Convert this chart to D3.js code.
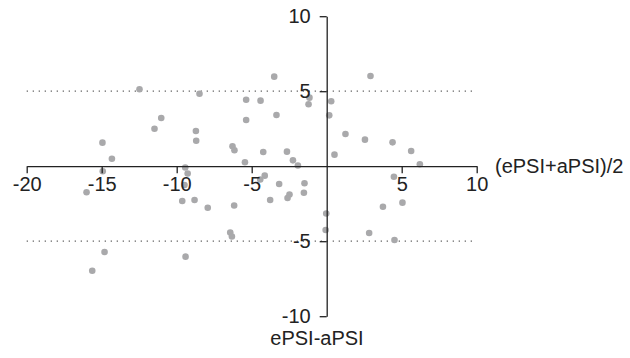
<!DOCTYPE html>
<html>
<head>
<meta charset="utf-8">
<script src="https://cdn.jsdelivr.net/npm/d3@7"></script>
<style>
  html, body { margin: 0; padding: 0; background: #fff; }
  svg text { font-family: "Liberation Sans", Arial, Helvetica, sans-serif; }
</style>
</head>
<body>
<svg id="chart" width="630" height="358"></svg>
<script>
// Bland-Altman style data: x = (ePSI+aPSI)/2, y = ePSI-aPSI
const meanValues = [
  -12.48, -8.48, -3.5, -5.37, -4.41, -1.15, -1.21, -3.35, -11.03, -11.48,
  -5.37, -8.72, -8.7, -14.95, -14.32, -6.28, -6.15, -4.23, -2.65, -2.25,
  -1.92, -5.45, -9.43, -9.27, -14.93, -4.13, -4.43, 0.3, 0.17, 2.92,
  1.25, 2.55, 4.39, 5.63, 0.52, 6.21, 4.48, -16.01, -9.48, -9.63,
  -8.81, -7.93, -6.17, -3.17, -3.77, -2.61, -2.48, -1.48, -1.52, -0.03,
  -0.07, -6.43, -6.32, -9.41, -14.81, -15.63, 5.05, 3.75, 2.83, 4.52
];
const diffValues = [
  5.13, 4.83, 5.97, 4.43, 4.37, 4.57, 4.13, 3.41, 3.21, 2.5,
  3.08, 2.35, 1.7, 1.57, 0.5, 1.33, 1.06, 0.95, 0.97, 0.39,
  0.05, 0.26, -0.09, -0.49, -0.34, -0.63, -0.89, 4.33, 3.39, 6.01,
  2.15, 1.77, 1.59, 1.01, 0.77, 0.13, -0.7, -1.74, -1.25, -2.32,
  -2.25, -2.77, -2.62, -1.19, -2.25, -2.12, -1.89, -1.14, -1.77, -3.15,
  -4.25, -4.42, -4.69, -6.03, -5.72, -6.97, -2.43, -2.7, -4.45, -4.92
];
const xTicks = [-20, -15, -10, -5, 5, 10];
const yTicks = [-10, -5, 5, 10];
const limitLines = [5, -5];
const xLabel = "(ePSI+aPSI)/2";
const yLabel = "ePSI-aPSI";

const svg = d3.select("#chart");
const x = d3.scaleLinear().domain([-20, 10]).range([26.7, 476.7]);
const y = d3.scaleLinear().domain([-10, 10]).range([316.2, 16.2]);

// limit lines
svg.selectAll("line.limit").data(limitLines).enter().append("line")
  .attr("class", "limit")
  .attr("x1", x(-20)).attr("x2", x(10))
  .attr("y1", d => y(d)).attr("y2", d => y(d))
  .attr("stroke", "#555").attr("stroke-width", 1.2)
  .attr("stroke-dasharray", "1.2,4.8");

// points
const pts = meanValues.map((m, i) => ({ x: m, y: diffValues[i] }));
svg.selectAll("circle.pt").data(pts).enter().append("circle")
  .attr("class", "pt")
  .attr("cx", d => x(d.x)).attr("cy", d => y(d.y))
  .attr("r", 3.3)
  .attr("fill", "#a9a9ab");

// axes
const xAxis = d3.axisBottom(x).tickValues(xTicks).tickSize(7).tickSizeOuter(0).tickPadding(4)
  .tickFormat(d3.format("d"));
const gx = svg.append("g").attr("transform", `translate(0,${y(0)})`).call(xAxis);
const yAxis = d3.axisLeft(y).tickValues(yTicks).tickSize(7).tickSizeOuter(0).tickPadding(9)
  .tickFormat(d3.format("d"));
const gy = svg.append("g").attr("transform", `translate(${x(0)},0)`).call(yAxis);

[gx, gy].forEach(g => {
  g.selectAll("path.domain").attr("stroke", "#222").attr("stroke-width", 1.3);
  g.selectAll(".tick line").attr("stroke", "#222").attr("stroke-width", 1.3);
  g.selectAll(".tick text").attr("fill", "#222").style("font-size", "20px")
    .style("font-family", '"Liberation Sans", Arial, Helvetica, sans-serif')
    .text(d => d < 0 ? "-" + Math.abs(d) : String(d));
});

svg.append("text")
  .attr("x", 495).attr("y", 173)
  .attr("fill", "#222").style("font-size", "20px")
  .text(xLabel);

svg.append("text")
  .attr("x", 317).attr("y", 345)
  .attr("text-anchor", "middle")
  .attr("fill", "#222").style("font-size", "20px")
  .text(yLabel);
</script>
</body>
</html>
